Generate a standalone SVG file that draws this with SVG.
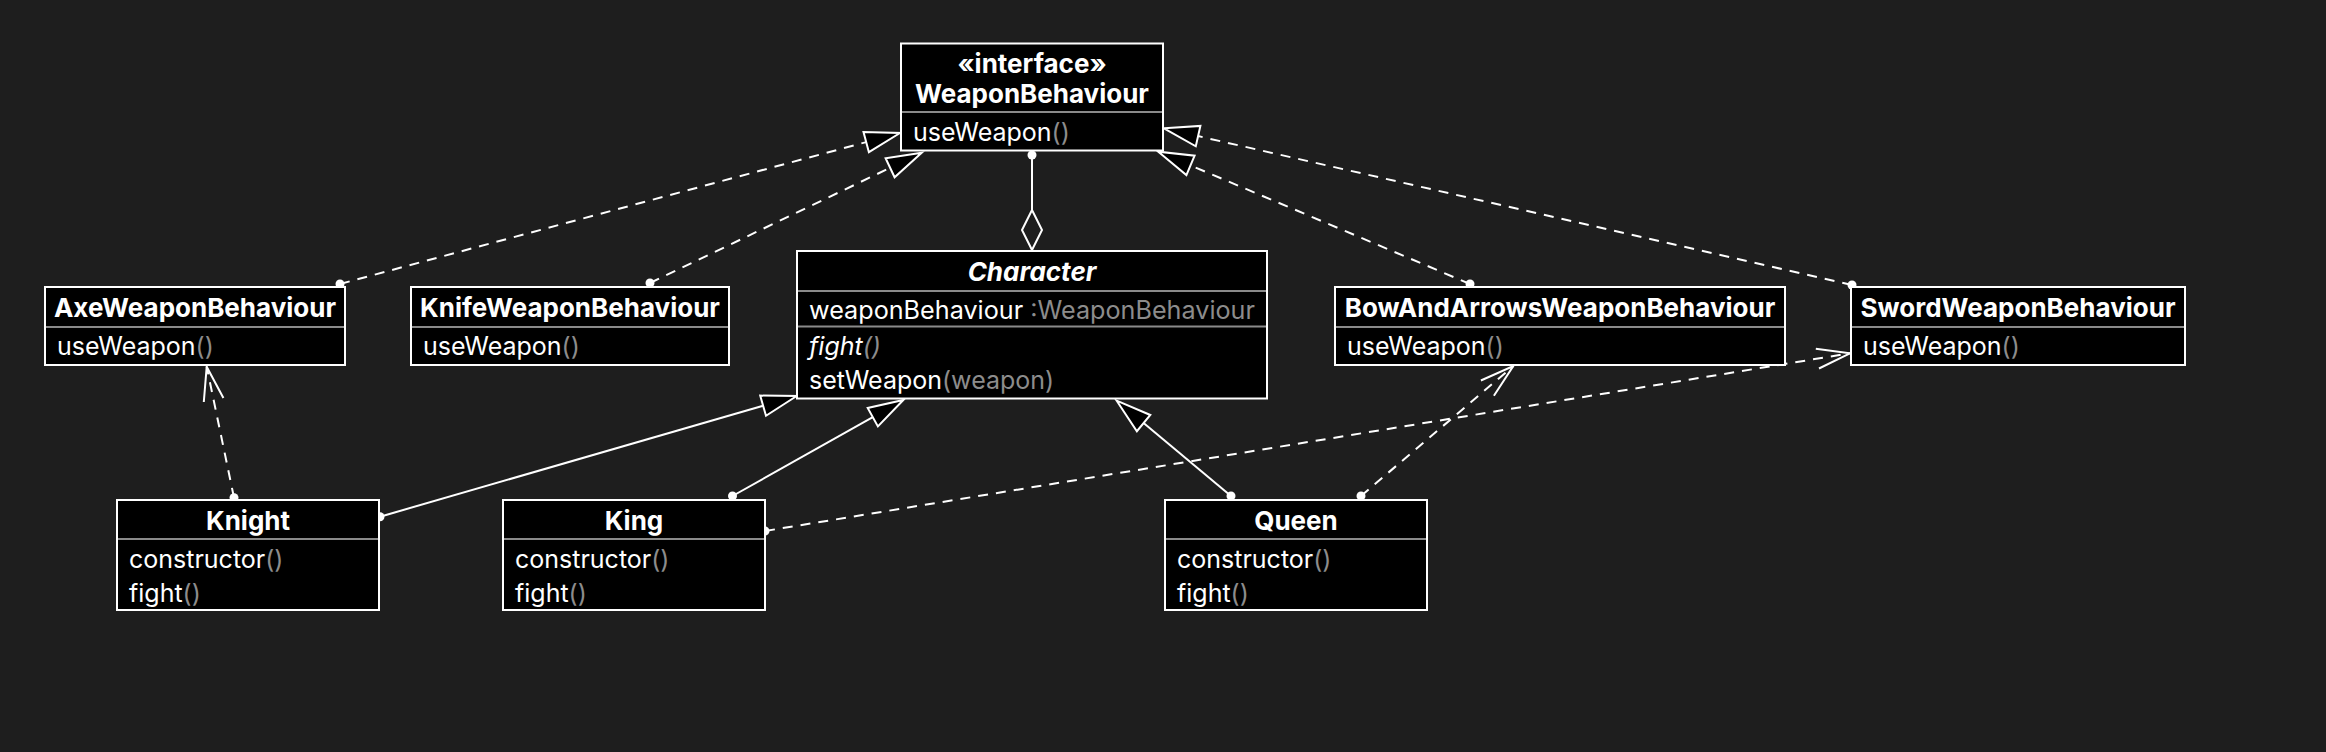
<svg xmlns="http://www.w3.org/2000/svg" width="2326" height="752" viewBox="0 0 2326 752">
<style>
.bx{fill:#000;stroke:#fff;stroke-width:2}
.dv{stroke:#8a8a8a;stroke-width:2}
.t{font-family:Inter,"Noto Sans","Liberation Sans",sans-serif;font-size:25px;fill:#fff}
.b{font-weight:bold;font-size:26px}
.i{font-style:italic}
.c{text-anchor:middle}
.g{fill:#8c8c8c}
.ln{stroke:#fff;stroke-width:2;fill:none}
.ds{stroke-dasharray:10 8}
.tri{fill:#000;stroke:#fff;stroke-width:2;stroke-linejoin:miter}
.dm{fill:#1e1e1e;stroke:#fff;stroke-width:2}
.dot{fill:#fff}
</style>
<rect width="2326" height="752" fill="#1e1e1e"/>
<g id="connectors">
  <line class="ln ds" x1="340" y1="284" x2="866.2" y2="142.1"/>
  <polygon class="tri" points="900,133 868.9,152.2 863.5,132"/>
  <circle class="dot" cx="340" cy="284" r="4.5"/>
  <line class="ln ds" x1="650" y1="283" x2="890.1" y2="167.8"/>
  <polygon class="tri" points="921.7,152.7 894.6,177.3 885.6,158.3"/>
  <circle class="dot" cx="650" cy="283" r="4.5"/>
  <line class="ln ds" x1="1470" y1="284" x2="1190.5" y2="165.4"/>
  <polygon class="tri" points="1158.3,151.7 1186.4,175.1 1194.6,155.7"/>
  <circle class="dot" cx="1470" cy="284" r="4.5"/>
  <line class="ln ds" x1="1852" y1="285" x2="1198.1" y2="136.1"/>
  <polygon class="tri" points="1164,128.3 1195.8,146.3 1200.4,125.9"/>
  <circle class="dot" cx="1852" cy="285" r="4.5"/>
  <line class="ln" x1="380" y1="516.7" x2="763.1" y2="405.7"/>
  <polygon class="tri" points="796.7,396 766,415.8 760.2,395.6"/>
  <circle class="dot" cx="380" cy="516.7" r="4.5"/>
  <line class="ln" x1="732.5" y1="496" x2="872.8" y2="417.2"/>
  <polygon class="tri" points="903.3,400 877.9,426.4 867.7,408"/>
  <circle class="dot" cx="732.5" cy="496" r="4.5"/>
  <line class="ln" x1="1231" y1="496" x2="1143.6" y2="423.1"/>
  <polygon class="tri" points="1116.7,400.7 1136.9,431.2 1150.3,415"/>
  <circle class="dot" cx="1231" cy="496" r="4.5"/>
  <line class="ln ds" x1="234" y1="497.7" x2="206.7" y2="366.7"/>
  <polyline class="ln" points="223.4,398 206.7,366.7 203.8,402"/>
  <circle class="dot" cx="234" cy="497.7" r="4.5"/>
  <line class="ln ds" x1="765" y1="531" x2="1850" y2="353.3"/>
  <polyline class="ln" points="1819,368.5 1850,353.3 1815.8,348.7"/>
  <circle class="dot" cx="765" cy="531" r="4.5"/>
  <line class="ln ds" x1="1361" y1="496" x2="1513.3" y2="366"/>
  <polyline class="ln" points="1493.9,395.7 1513.3,366 1480.9,380.5"/>
  <circle class="dot" cx="1361" cy="496" r="4.5"/>
  <line class="ln" x1="1032" y1="155" x2="1032" y2="210"/>
  <polygon class="dm" points="1032,210 1042,230 1032,250 1022,230"/>
  <circle class="dot" cx="1032" cy="155" r="4.5"/>
</g>
<g id="WeaponBehaviour">
  <rect class="bx" x="901" y="43.5" width="262" height="107"/>
  <line class="dv" x1="902" y1="112" x2="1162" y2="112"/>
  <text class="t b c" x="1032" y="73">«interface»</text>
  <text class="t b c" x="1032" y="103">WeaponBehaviour</text>
  <text class="t" x="913" y="141">useWeapon<tspan class="g">()</tspan></text>
</g>
<g id="Character">
  <rect class="bx" x="797" y="251" width="470" height="147.5"/>
  <line class="dv" x1="798" y1="291" x2="1266" y2="291"/>
  <line class="dv" x1="798" y1="326.5" x2="1266" y2="326.5"/>
  <text class="t b i c" x="1032" y="281">Character</text>
  <text class="t" x="809" y="318.5" textLength="446" lengthAdjust="spacingAndGlyphs">weaponBehaviour <tspan class="g">:WeaponBehaviour</tspan></text>
  <text class="t i" x="809" y="355">fight<tspan class="g">()</tspan></text>
  <text class="t" x="809" y="389">setWeapon<tspan class="g">(weapon)</tspan></text>
</g>
<g id="AxeWeaponBehaviour">
  <rect class="bx" x="45" y="287" width="300" height="78"/>
  <line class="dv" x1="46" y1="327" x2="344" y2="327"/>
  <text class="t b c" x="195" y="317">AxeWeaponBehaviour</text>
  <text class="t" x="57" y="355">useWeapon<tspan class="g">()</tspan></text>
</g>
<g id="KnifeWeaponBehaviour">
  <rect class="bx" x="411" y="287" width="318" height="78"/>
  <line class="dv" x1="412" y1="327" x2="728" y2="327"/>
  <text class="t b c" x="570" y="317">KnifeWeaponBehaviour</text>
  <text class="t" x="423" y="355">useWeapon<tspan class="g">()</tspan></text>
</g>
<g id="BowAndArrowsWeaponBehaviour">
  <rect class="bx" x="1335" y="287" width="450" height="78"/>
  <line class="dv" x1="1336" y1="327" x2="1784" y2="327"/>
  <text class="t b c" x="1560" y="317">BowAndArrowsWeaponBehaviour</text>
  <text class="t" x="1347" y="355">useWeapon<tspan class="g">()</tspan></text>
</g>
<g id="SwordWeaponBehaviour">
  <rect class="bx" x="1851" y="287" width="334" height="78"/>
  <line class="dv" x1="1852" y1="327" x2="2184" y2="327"/>
  <text class="t b c" x="2018" y="317">SwordWeaponBehaviour</text>
  <text class="t" x="1863" y="355">useWeapon<tspan class="g">()</tspan></text>
</g>
<g id="Knight">
  <rect class="bx" x="117" y="500" width="262" height="110"/>
  <line class="dv" x1="118" y1="539" x2="378" y2="539"/>
  <text class="t b c" x="248" y="530">Knight</text>
  <text class="t" x="129" y="568">constructor<tspan class="g">()</tspan></text>
  <text class="t" x="129" y="601.5">fight<tspan class="g">()</tspan></text>
</g>
<g id="King">
  <rect class="bx" x="503" y="500" width="262" height="110"/>
  <line class="dv" x1="504" y1="539" x2="764" y2="539"/>
  <text class="t b c" x="634" y="530">King</text>
  <text class="t" x="515" y="568">constructor<tspan class="g">()</tspan></text>
  <text class="t" x="515" y="601.5">fight<tspan class="g">()</tspan></text>
</g>
<g id="Queen">
  <rect class="bx" x="1165" y="500" width="262" height="110"/>
  <line class="dv" x1="1166" y1="539" x2="1426" y2="539"/>
  <text class="t b c" x="1296" y="530">Queen</text>
  <text class="t" x="1177" y="568">constructor<tspan class="g">()</tspan></text>
  <text class="t" x="1177" y="601.5">fight<tspan class="g">()</tspan></text>
</g>
</svg>
